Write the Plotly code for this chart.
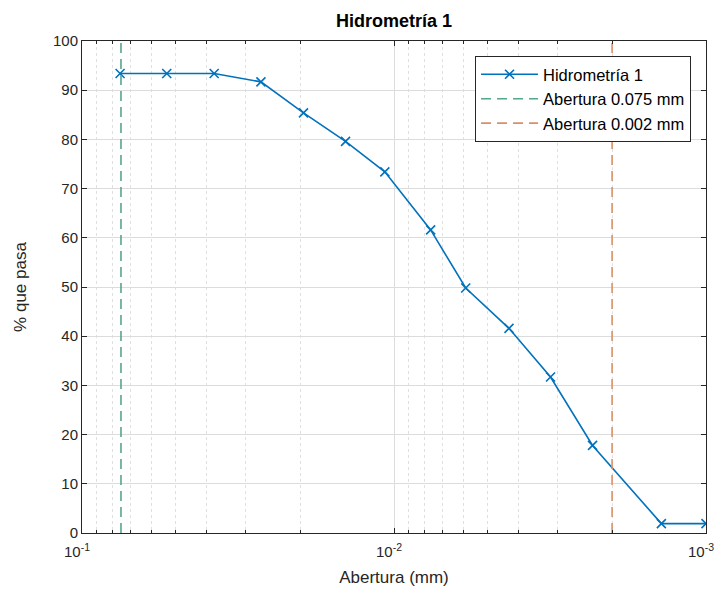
import plotly.graph_objects as go

# Data
abertura_mm = [0.0755, 0.0535, 0.0377, 0.0267, 0.0195, 0.0143, 0.0107,
               0.00763, 0.00589, 0.00428, 0.00315, 0.00231, 0.00139, 0.001]
pct_pasa = [93.4, 93.4, 93.4, 91.7, 85.4, 79.6, 73.4,
            61.6, 49.8, 41.6, 31.7, 17.8, 1.9, 1.9]

serie_nombre = "Hidrometría 1"
linea_075 = 0.075
linea_002 = 0.002
y_rango = [0, 100]

major_x = [0.1, 0.01, 0.001]
major_x_text = ["10<sup>-1</sup>", "10<sup>-2</sup>", "10<sup>-3</sup>"]
minor_x = [m * 10 ** e for e in (-2, -3) for m in range(2, 10)]

azul = "#0072BD"
verde = "#55a68f"
naranja = "#d8906c"
eje = "#262626"
fuente = "Liberation Sans, Arial, sans-serif"

W, H = 716, 592
L, R, T, B = 74, 18, 33, 67

fig = go.Figure()
fig.add_trace(go.Scatter(
    x=abertura_mm, y=pct_pasa, mode="lines+markers", name=serie_nombre,
    line=dict(color=azul, width=1.6),
    marker=dict(symbol="x-thin", size=9, line=dict(color=azul, width=1.6), color=azul),
))
fig.add_trace(go.Scatter(
    x=[linea_075, linea_075], y=y_rango, mode="lines", name="Abertura 0.075 mm",
    line=dict(color=verde, width=1.6, dash="10px,6px"),
))
fig.add_trace(go.Scatter(
    x=[linea_002, linea_002], y=y_rango, mode="lines", name="Abertura 0.002 mm",
    line=dict(color=naranja, width=1.6, dash="10px,6px"),
))

fig.update_layout(
    width=W, height=H,
    margin=dict(l=L, r=R, t=T, b=B),
    paper_bgcolor="white", plot_bgcolor="white",
    font=dict(family=fuente, size=15, color=eje),
    title=dict(text="<b>Hidrometría 1</b>", x=(L + (W - R)) / 2 / W, xanchor="center",
               y=1 - 13 / H, yanchor="middle", font=dict(size=18, color="black")),
    showlegend=True,
    legend=dict(x=0.976, y=0.9695, xanchor="right", yanchor="top",
                bgcolor="white", bordercolor="#262626", borderwidth=1,
                font=dict(size=16.5, color="black"), tracegroupgap=0,
                itemwidth=57),
)
fig.update_xaxes(
    type="log", range=[-1, -3], tickvals=major_x, ticktext=major_x_text,
    automargin=False, ticklabeloverflow="allow", ticklabelshift=5, ticklabelstandoff=5,
    showgrid=True, gridcolor="#dcdcdc", gridwidth=1,
    ticks="inside", ticklen=5, tickcolor=eje, mirror="allticks",
    showline=True, linecolor=eje, linewidth=1,
    minor=dict(tickvals=minor_x, showgrid=True, gridcolor="#e0e0e0", griddash="dot",
               ticks="inside", ticklen=3, tickcolor=eje),
    title=dict(text="Abertura (mm)", font=dict(size=17), standoff=12),
    zeroline=False,
)
fig.update_yaxes(
    range=y_rango, dtick=10, tick0=0, automargin=False,
    showgrid=True, gridcolor="#dcdcdc", gridwidth=1,
    ticks="inside", ticklen=5, tickcolor=eje, mirror="allticks",
    showline=True, linecolor=eje, linewidth=1,
    title=dict(text="% que pasa", font=dict(size=17), standoff=22),
    zeroline=False,
)

fig.write_html("out.html")
